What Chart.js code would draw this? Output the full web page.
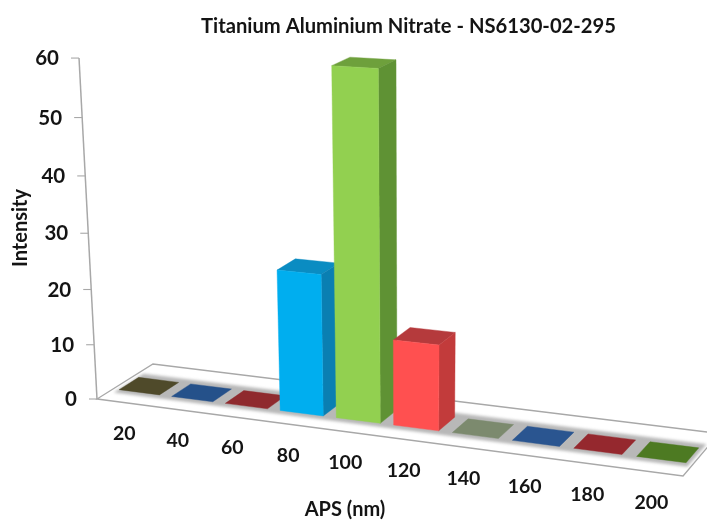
<!DOCTYPE html>
<html>
<head>
<meta charset="utf-8">
<style>
html,body{margin:0;padding:0;background:#fff;}
#wrap{width:707px;height:523px;}
canvas{filter:blur(0.45px);}
</style>
<script src="https://cdn.jsdelivr.net/npm/chart.js@4"></script>
</head>
<body>
<div id="wrap"><canvas id="c" width="707" height="523"></canvas></div>
<script>
const chartTitle = 'Titanium Aluminium Nitrate - NS6130-02-295';
const xAxisTitle = 'APS (nm)';
const yAxisTitle = 'Intensity';
const categories = ['20','40','60','80','100','120','140','160','180','200'];
const intensity = [0,0,0,25,60,15,0,0,0,0];
const frontColors = ['#4f4a2a','#25518a','#8f2a2e','#00aeef','#92d050','#ff5050','#7c8a6e','#2a5590','#95282e','#4d7a22'];
const sideColors = ['#4f4a2a','#25518a','#8f2a2e','#0a7fb2','#5f9234','#c23b3b','#7c8a6e','#2a5590','#95282e','#4d7a22'];
const topColors = ['#4f4a2a','#25518a','#8f2a2e','#0a8cc2','#6ea03c','#b53a3c','#7c8a6e','#2a5590','#95282e','#4d7a22'];

const FONT = 'Lato, Carlito, sans-serif';
const INK = '#141414';
const LINE = '#a8a8a8';
const DEPTH_FRONT = 0.28, DEPTH_BACK = 0.63;

// Perspective of the 3D box: unit floor (s along categories, d into the page) + height.
function project(s, d, h) {
  const w = 1 - 0.108 * s + 0.042 * d;
  const bx = (97 + 512.3 * s + 62.4 * d) / w;
  const by = (399 + 25.6 * s - 19.7 * d) / w;
  const k = 0.000895 * h / w;
  const f = k / (1 - k);
  return { x: bx + (bx - 414) * f, y: by + (by - 6407) * f };
}
function poly(ctx, pts, fill, stroke) {
  ctx.beginPath();
  pts.forEach((p, i) => i ? ctx.lineTo(p.x, p.y) : ctx.moveTo(p.x, p.y));
  ctx.closePath();
  if (fill) { ctx.fillStyle = fill; ctx.fill(); }
  if (stroke) { ctx.strokeStyle = stroke; ctx.stroke(); }
}

const box3d = {
  id: 'box3d',
  beforeDraw(chart) {
    const x = chart.scales.x, y = chart.scales.y;
    // move the library's tick labels onto the projected axes
    x.getLabelItems(chart.chartArea).forEach((item, i) => {
      const s = (x.getPixelForTick(i) - x.left) / x.width;
      const p = project(s, 0, 0);
      item.textOffset = 0;
      item.options.textAlign = 'center';
      item.options.textBaseline = 'middle';
      item.options.translation = [p.x + 1, p.y + 31.5];
    });
    y.getLabelItems(chart.chartArea).forEach((item, i) => {
      const p = project(0, 0, y.ticks[i].value);
      item.textOffset = 0;
      item.options.textAlign = 'right';
      item.options.textBaseline = 'middle';
      item.options.translation = [p.x - 20, p.y + 0.5];
    });
    if (!x._moved) {
      const draw = x.drawTitle;
      x.drawTitle = function () {
        const c = this.ctx;
        c.save();
        c.translate(345 - (this.left + this.right) / 2, 0);
        draw.call(this);
        c.restore();
      };
      x._moved = true;
    }
  },
  beforeDatasetsDraw(chart) {
    const ctx = chart.ctx, x = chart.scales.x, y = chart.scales.y;
    const meta = chart.getDatasetMeta(0);
    ctx.save();
    // floor
    ctx.lineWidth = 1.3;
    poly(ctx, [project(0,0,0), project(1,0,0), project(1,1,0), project(0,1,0)], '#ffffff', LINE);
    ctx.filter = 'blur(1.6px)';
    poly(ctx, [project(0.01,0.2,0), project(0.995,0.2,0), project(0.995,0.73,0), project(0.01,0.73,0)], '#b8b8b8');
    ctx.filter = 'none';
    // value axis
    ctx.lineWidth = 1.5;
    ctx.strokeStyle = LINE;
    const a0 = project(0,0,y.min), a1 = project(0,0,y.max);
    ctx.beginPath(); ctx.moveTo(a0.x, a0.y); ctx.lineTo(a1.x, a1.y); ctx.stroke();
    ctx.lineWidth = 1.1;
    y.ticks.forEach(t => {
      const p = project(0,0,t.value);
      ctx.beginPath(); ctx.moveTo(p.x - 8, p.y); ctx.lineTo(p.x, p.y); ctx.stroke();
    });
    // bars, left to right
    ctx.lineWidth = 0.4;
    meta.data.forEach((bar, i) => {
      const half = bar.width / 2;
      const s0 = (bar.x - half - x.left) / x.width;
      const s1 = (bar.x + half - x.left) / x.width;
      const h = y.getValueForPixel(bar.y);
      const f0 = project(s0, DEPTH_FRONT, 0), f1 = project(s1, DEPTH_FRONT, 0);
      const b1 = project(s1, DEPTH_BACK, 0);
      const tf0 = project(s0, DEPTH_FRONT, h), tf1 = project(s1, DEPTH_FRONT, h);
      const tb0 = project(s0, DEPTH_BACK, h), tb1 = project(s1, DEPTH_BACK, h);
      poly(ctx, [tf0, tf1, tb1, tb0], topColors[i], topColors[i]);
      if (h > 0) {
        poly(ctx, [f1, b1, tb1, tf1], sideColors[i], sideColors[i]);
        poly(ctx, [f0, f1, tf1, tf0], frontColors[i], frontColors[i]);
      }
    });
    ctx.restore();
    return false;
  }
};

new Chart(document.getElementById('c'), {
  type: 'bar',
  data: {
    labels: categories,
    datasets: [{ data: intensity, backgroundColor: frontColors, barPercentage: 0.77, categoryPercentage: 1 }]
  },
  plugins: [box3d],
  options: {
    responsive: false,
    animation: false,
    layout: { padding: 0 },
    plugins: {
      legend: { display: false },
      tooltip: { enabled: false },
      title: {
        display: true,
        text: chartTitle,
        fullSize: false,
        color: INK,
        font: { family: FONT, size: 20.2, weight: 'bold', lineHeight: 1.2 },
        padding: { top: 14.5, bottom: 19.3 }
      }
    },
    scales: {
      x: {
        grid: { display: false },
        border: { display: false },
        ticks: { color: INK, autoSkip: false, maxRotation: 0, minRotation: 0, font: { family: FONT, size: 19.5, weight: 'bold' } },
        title: { display: true, text: xAxisTitle, color: INK, font: { family: FONT, size: 20, weight: 'bold' }, padding: { top: 0, bottom: 1 } },
        afterFit(scale) { scale.height = 125; }
      },
      y: {
        min: 0, max: 60,
        grid: { display: false },
        border: { display: false },
        ticks: { stepSize: 10, color: INK, font: { family: FONT, size: 20.5, weight: 'bold' } },
        title: { display: true, text: yAxisTitle, color: INK, font: { family: FONT, size: 20, weight: 'bold' }, padding: { top: 9, bottom: 0 } },
        afterFit(scale) { scale.width = 110; }
      }
    }
  }
});
</script>
</body>
</html>
